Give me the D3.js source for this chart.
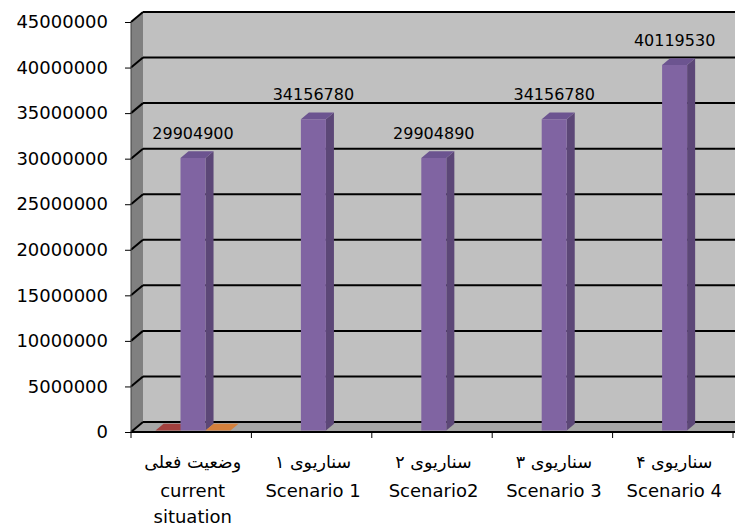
<!DOCTYPE html>
<html>
<head>
<meta charset="utf-8">
<script src="https://cdn.jsdelivr.net/npm/d3@7"></script>
<style>
  html, body { margin: 0; padding: 0; background: #ffffff; }
  svg { display: block; }
  text { font-family: "DejaVu Sans", sans-serif; fill: #000; }
</style>
</head>
<body>
<svg id="chart" width="735" height="527"></svg>
<script>
// Category labels: Persian line, English line(s)
const categoriesFa = ["وضعیت فعلی", "سناریوی ۱", "سناریوی ۲", "سناریوی ۳", "سناریوی ۴"];
const categoriesEn = [["current", "situation"], ["Scenario 1"], ["Scenario2"], ["Scenario 3"], ["Scenario 4"]];
const categoryKeys = ["c0", "c1", "c2", "c3", "c4"];

// Three series; only the middle one carries totals
const seriesNames = ["s1", "s2", "s3"];
const series1 = [0, null, null, null, null];
const series2 = [29904900, 34156780, 29904890, 34156780, 40119530];
const series3 = [0, null, null, null, null];

const yTicks = [0, 5000000, 10000000, 15000000, 20000000, 25000000, 30000000, 35000000, 40000000, 45000000];

const svg = d3.select("#chart");

// Front plane of the 3D box
const plotLeft = 131, plotRight = 733, plotBottom = 432, plotTop = 22;
const depthX = 12, depthY = -10;           // offset of the back wall
const barD0 = 0.15, barD1 = 0.82;          // depth slab occupied by the bars

const y = d3.scaleLinear().domain([0, 45000000]).range([plotBottom, plotTop]);
const x0 = d3.scaleBand().domain(categoryKeys).range([plotLeft, plotRight]).paddingInner(0).paddingOuter(0);
const clusterW = 75;
const x1 = d3.scaleBand().domain(seriesNames).range([0, clusterW]);

// project (x on front plane, value, depth fraction) to screen
const P = (x, v, d) => [x + depthX * d, y(v) + depthY * d];
const poly = pts => pts.map(p => p.join(",")).join(" ");

const colors = {
  s1: { front: "#c0504d", side: "#8e3a38", top: "#a3403d" },
  s2: { front: "#8064a2", side: "#5c4777", top: "#6c5490" },
  s3: { front: "#f79646", side: "#b86d31", top: "#d4803c" }
};

// Back wall
svg.append("polygon")
  .attr("points", poly([P(plotLeft, 45000000, 1), [735, y(45000000) + depthY], [735, y(0) + depthY], P(plotLeft, 0, 1)]))
  .attr("fill", "#c0c0c0");
// Left wall
svg.append("polygon")
  .attr("points", poly([P(plotLeft, 45000000, 0), P(plotLeft, 45000000, 1), P(plotLeft, 0, 1), P(plotLeft, 0, 0)]))
  .attr("fill", "#808080");
// Floor
svg.append("polygon")
  .attr("points", poly([P(plotLeft, 0, 0), P(plotLeft, 0, 1), [735, y(0) + depthY], [735, y(0)]]))
  .attr("fill", "#a6a6a6");

// Gridlines on back wall and left wall
const grid = svg.append("g");
yTicks.forEach(t => {
  grid.append("line")
    .attr("x1", plotLeft + depthX).attr("x2", 735)
    .attr("y1", y(t) + depthY).attr("y2", y(t) + depthY)
    .attr("stroke", "#000").attr("stroke-width", 2);
  grid.append("line")
    .attr("x1", plotLeft).attr("y1", y(t))
    .attr("x2", plotLeft + depthX).attr("y2", y(t) + depthY)
    .attr("stroke", "#000").attr("stroke-width", 2);
});

// Front floor edge (category axis)
svg.append("line")
  .attr("x1", plotLeft).attr("x2", 735)
  .attr("y1", plotBottom).attr("y2", plotBottom)
  .attr("stroke", "#000").attr("stroke-width", 2);
// Value axis line
svg.append("line")
  .attr("x1", plotLeft).attr("x2", plotLeft)
  .attr("y1", plotTop).attr("y2", plotBottom)
  .attr("stroke", "#404040").attr("stroke-width", 1);

// Value axis ticks and labels
const yAxis = d3.axisLeft(y).tickValues(yTicks).tickSize(6).tickPadding(17).tickFormat(d3.format("d"));
const yg = svg.append("g").attr("transform", `translate(${plotLeft},0)`).call(yAxis);
yg.select(".domain").remove();
yg.selectAll(".tick line").attr("stroke", "#000");
yg.selectAll(".tick text").attr("font-size", 18).attr("font-family", "DejaVu Sans").attr("fill", "#000");

// Category ticks
const catEdges = categoryKeys.map(k => x0(k)).concat([plotRight]);
svg.append("g").selectAll("line").data(catEdges).join("line")
  .attr("x1", d => d).attr("x2", d => d)
  .attr("y1", plotBottom).attr("y2", plotBottom + 6)
  .attr("stroke", "#000").attr("stroke-width", 1);

// Bars
const seriesData = { s1: series1, s2: series2, s3: series3 };
const bars = svg.append("g");
categoryKeys.forEach((k, i) => {
  const base = x0(k) + (x0.bandwidth() - clusterW) / 2;
  seriesNames.forEach(s => {
    const v = seriesData[s][i];
    if (v === null || v === undefined) return;
    const xl = base + x1(s), xr = xl + x1.bandwidth();
    const c = colors[s];
    const g = bars.append("g");
    g.append("polygon")
      .attr("points", poly([P(xr, 0, barD0), P(xr, v, barD0), P(xr, v, barD1), P(xr, 0, barD1)]))
      .attr("fill", c.side);
    g.append("polygon")
      .attr("points", poly([P(xl, v, barD0), P(xr, v, barD0), P(xr, v, barD1), P(xl, v, barD1)]))
      .attr("fill", c.top);
    if (v > 0) {
      g.append("polygon")
        .attr("points", poly([P(xl, 0, barD0), P(xl, v, barD0), P(xr, v, barD0), P(xr, 0, barD0)]))
        .attr("fill", c.front);
    }
  });
  // Value label over the purple column
  const v2 = series2[i];
  const xc = base + x1("s2") + x1.bandwidth() / 2;
  const pt = P(xc, v2, barD0);
  svg.append("text")
    .attr("x", pt[0]).attr("y", pt[1] - 19)
    .attr("text-anchor", "middle")
    .attr("font-size", 16)
    .text(d3.format("d")(v2));
});

// Category labels
const labels = svg.append("g");
categoryKeys.forEach((k, i) => {
  const cx = x0(k) + x0.bandwidth() / 2 + 1.5;
  labels.append("text")
    .attr("x", cx).attr("y", 468)
    .attr("text-anchor", "middle")
    .attr("font-size", 17.5)
    .text(categoriesFa[i]);
  categoriesEn[i].forEach((line, j) => {
    labels.append("text")
      .attr("x", cx).attr("y", 497 + j * 26)
      .attr("text-anchor", "middle")
      .attr("font-size", 18)
      .text(line);
  });
});
</script>
</body>
</html>
